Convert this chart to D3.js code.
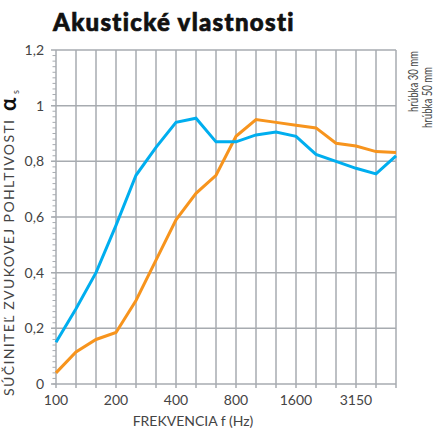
<!DOCTYPE html>
<meta charset="utf-8">
<style>
body { margin: 0; background: #fff; }
text { font-family: Lato, "Open Sans", sans-serif; }
.grid line { stroke: #a7abb0; stroke-width: 1.5; }
.line { fill: none; stroke-width: 3; stroke-linejoin: miter; }
</style>
<body>
<script src="https://d3js.org/d3.v7.min.js"></script>
<script>

// frequency bands (1/3 octave)
var freqs = ["100","125","160","200","250","315","400","500","630","800",
             "1000","1250","1600","2000","2500","3150","4000","5000"];
var freqLabels = ["100","200","400","800","1600","3150"];

// absorption coefficients
var blueVals   = [0.15,0.27,0.40,0.57,0.75,0.85,0.94,0.955,0.87,0.87,
                  0.895,0.905,0.89,0.825,0.80,0.775,0.755,0.82];
var orangeVals = [0.04,0.115,0.16,0.185,0.30,0.445,0.59,0.685,0.75,0.89,
                  0.95,0.94,0.93,0.92,0.865,0.855,0.835,0.832];

var yTicks = [0, 0.2, 0.4, 0.6, 0.8, 1, 1.2];

var margin = {top: 50, right: 40, bottom: 45, left: 56},
    width = 436 - margin.left - margin.right,
    height = 429 - margin.top - margin.bottom;

var svg = d3.select("body").append("svg")
    .attr("width", 436)
    .attr("height", 429);

var g = svg.append("g")
    .attr("transform", "translate(" + margin.left + "," + margin.top + ")");

var x = d3.scalePoint().domain(freqs).range([0, width]);
var y = d3.scaleLinear().domain([0, 1.2]).range([height, 0]);

// title
svg.append("text")
    .attr("x", 53).attr("y", 31)
    .style("font-size", "24px")
    .style("font-weight", 900)
    .style("letter-spacing", "1.3px")
    .attr("fill", "#111")
    .attr("stroke", "#111")
    .attr("stroke-width", 0.7)
    .text("Akustické vlastnosti");

// grid
var grid = g.append("g").attr("class", "grid");
grid.selectAll(".v").data(freqs).enter().append("line")
    .attr("x1", function(d) { return x(d); }).attr("x2", function(d) { return x(d); })
    .attr("y1", 0).attr("y2", height + 4);
grid.selectAll(".h").data(yTicks).enter().append("line")
    .attr("x1", -5).attr("x2", width)
    .attr("y1", function(d) { return y(d); }).attr("y2", function(d) { return y(d); });

// minor ticks on y axis
g.append("g").attr("class", "grid").selectAll("line")
    .data(d3.range(0, 60).map(function(i) { return i * 0.02; }))
  .enter().append("line")
    .attr("x1", -3.5).attr("x2", 0)
    .attr("y1", function(d) { return y(d); }).attr("y2", function(d) { return y(d); })
    .style("stroke-width", 1);

// y tick labels
var fmt = function(d) { return d3.format("~g")(d).replace(".", ","); };
g.selectAll(".ylab").data(yTicks).enter().append("text")
    .attr("x", -12)
    .attr("y", function(d) { return y(d); })
    .attr("dy", "0.35em")
    .attr("text-anchor", "end")
    .style("font-size", "14px")
    .attr("fill", "#444")
    .text(fmt);

// x tick labels
g.selectAll(".xlab").data(freqLabels).enter().append("text")
    .attr("x", function(d) { return x(d); })
    .attr("y", height + 21)
    .attr("text-anchor", "middle")
    .style("font-size", "14px")
    .attr("fill", "#444")
    .text(function(d) { return d; });

// x title
g.append("text")
    .attr("x", 137).attr("y", height + 42)
    .attr("text-anchor", "middle")
    .style("font-size", "14px")
    .attr("fill", "#444")
    .text("FREKVENCIA f (Hz)");

// y title
svg.append("text")
    .attr("transform", "translate(14,396) rotate(-90)")
    .attr("textLength", 276).attr("lengthAdjust", "spacing")
    .style("font-size", "14px").attr("fill", "#444")
    .text("SÚČINITEĽ ZVUKOVEJ POHLTIVOSTI");
svg.append("text")
    .attr("transform", "translate(15.5,111) rotate(-90)")
    .style("font-size", "22px").style("font-weight", 700)
    .attr("fill", "#111")
    .text("α");
svg.append("text")
    .attr("transform", "translate(19,94) rotate(-90)")
    .style("font-size", "9px").attr("fill", "#444")
    .text("s");

// lines
var line = function(vals) {
  return d3.line()
    .x(function(d, i) { return x(freqs[i]); })
    .y(function(d) { return y(d); })(vals);
};
g.append("path").attr("class", "line").attr("stroke", "#f7941d").attr("d", line(orangeVals));
g.append("path").attr("class", "line").attr("stroke", "#00aeef").attr("d", line(blueVals));

// right labels
svg.append("text")
    .attr("transform", "translate(418,112) rotate(-90)")
    .attr("textLength", 61).attr("lengthAdjust", "spacingAndGlyphs")
    .style("font-size", "14px").attr("fill", "#444")
    .text("hrúbka 30 mm");
svg.append("text")
    .attr("transform", "translate(432,128) rotate(-90)")
    .attr("textLength", 61).attr("lengthAdjust", "spacingAndGlyphs")
    .style("font-size", "14px").attr("fill", "#444")
    .text("hrúbka 50 mm");

</script>
</body>
